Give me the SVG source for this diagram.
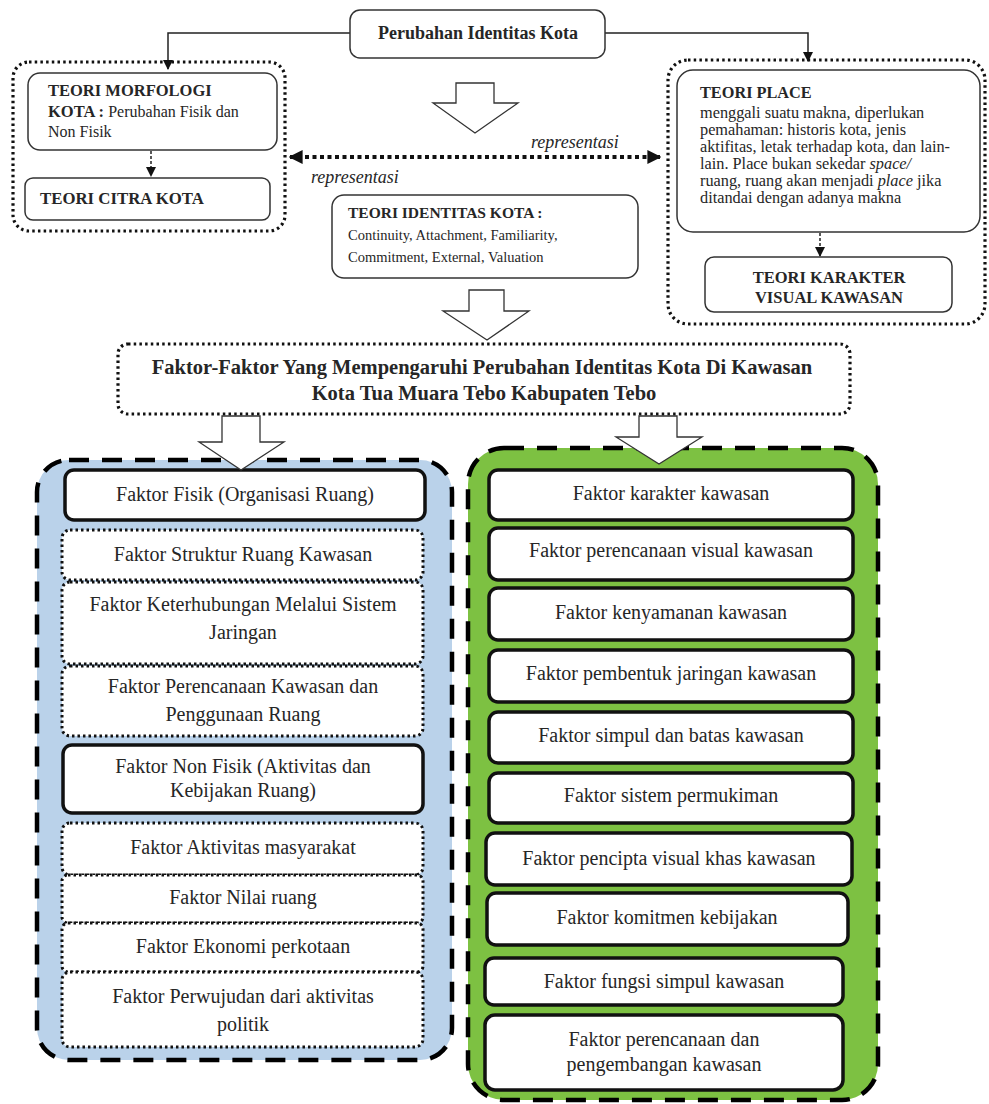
<svg xmlns="http://www.w3.org/2000/svg" width="989" height="1104" viewBox="0 0 989 1104" font-family="'Liberation Serif', 'DejaVu Serif', serif">
<defs>
<style>
text{font-family:'Liberation Serif','DejaVu Serif',serif;fill:#262626}
.b{font-weight:bold}
.i{font-style:italic}
.c{text-anchor:middle}
.box{fill:#fff;stroke:#333;stroke-width:1.5}
.dotbox{fill:none;stroke:#111;stroke-width:3.2;stroke-dasharray:2.5 3.2}
.dotin{fill:#fff;stroke:#111;stroke-width:3;stroke-dasharray:2.5 3}
.solid{fill:#fff;stroke:#111;stroke-width:3.5}
.dash{stroke:#000;stroke-width:4.5;stroke-dasharray:20 13}
.blk{fill:#fff;stroke:#333;stroke-width:1.3}
.ln{fill:none;stroke:#222;stroke-width:1.5}
.t19{font-size:20px}
.pl{font-size:16.3px}
</style>
<marker id="ah" viewBox="0 0 10 10" refX="9" refY="5" markerWidth="7" markerHeight="7" orient="auto"><path d="M0,0 L10,5 L0,10 z" fill="#111"/></marker>
<marker id="ahb" viewBox="0 0 10 10" refX="9" refY="5" markerWidth="3.5" markerHeight="3.5" orient="auto-start-reverse"><path d="M0,0 L10,5 L0,10 z" fill="#111"/></marker>
</defs>
<rect width="989" height="1104" fill="#fff"/>

<g id="connectors">
<path class="ln" d="M350,33 H168 V69" marker-end="url(#ah)"/>
<path class="ln" d="M605,33 H808 V61" marker-end="url(#ah)"/>
<path d="M151,151 V176" fill="none" stroke="#222" stroke-width="1.5" stroke-dasharray="3 2" marker-end="url(#ah)"/>
<path d="M820,233 V256" fill="none" stroke="#222" stroke-width="1.5" stroke-dasharray="3 2" marker-end="url(#ah)"/>
<path d="M290,157 H660" fill="none" stroke="#111" stroke-width="4" stroke-dasharray="4 3.5" marker-start="url(#ahb)" marker-end="url(#ahb)"/>
<text class="i" x="531" y="148" font-size="18">representasi</text>
<text class="i" x="311" y="183" font-size="18">representasi</text>
</g>

<g id="top">
<rect class="box" x="350" y="10" width="255" height="48" rx="10"/>
<text class="b c" x="478" y="39" font-size="18">Perubahan Identitas Kota</text>
</g>

<g id="left-group">
<rect class="dotbox" x="13" y="62" width="272" height="169" rx="16"/>
<g id="morfologi">
<rect class="box" x="28" y="73" width="249" height="77" rx="12"/>
<text class="b" x="48" y="96" font-size="16.5">TEORI MORFOLOGI</text>
<text x="48" y="117" font-size="16.5"><tspan class="b">KOTA : </tspan><tspan font-size="16">Perubahan Fisik dan</tspan></text>
<text x="48" y="137" font-size="16">Non Fisik</text>
</g>
<g id="citra">
<rect class="box" x="25" y="178" width="245" height="42" rx="8"/>
<text class="b" x="40" y="204" font-size="16.8">TEORI CITRA KOTA</text>
</g>
</g>

<g id="right-group">
<rect class="dotbox" x="668" y="60" width="317" height="264" rx="20"/>
<g id="place">
<rect class="box" x="677" y="70" width="303" height="162" rx="16"/>
<text class="b" x="700" y="98" font-size="16.3">TEORI PLACE</text>
<text class="pl" x="700" y="118">menggali suatu makna, diperlukan</text>
<text class="pl" x="700" y="135">pemahaman: historis kota, jenis</text>
<text class="pl" x="700" y="152">aktifitas, letak terhadap kota, dan lain-</text>
<text class="pl" x="700" y="169">lain. Place bukan sekedar <tspan class="i">space/</tspan></text>
<text class="pl" x="700" y="186">ruang, ruang akan menjadi <tspan class="i">place</tspan> jika</text>
<text class="pl" x="700" y="203">ditandai dengan adanya makna</text>
</g>
<g id="karakter">
<rect class="box" x="705" y="257" width="247" height="55" rx="9"/>
<text class="b c" x="829" y="283" font-size="16.5">TEORI KARAKTER</text>
<text class="b c" x="829" y="303" font-size="16.5">VISUAL KAWASAN</text>
</g>
</g>

<g id="identitas">
<rect class="box" x="332" y="195" width="306" height="83" rx="12"/>
<text class="b" x="348" y="218" font-size="15.5">TEORI IDENTITAS KOTA :</text>
<text x="348" y="240" font-size="14.5">Continuity, Attachment, Familiarity,</text>
<text x="348" y="262" font-size="14.5">Commitment, External, Valuation</text>
</g>

<g id="block-arrows">
<path class="blk" d="M456,83 H494 V103 H518 L475,133 L433,103 H456 Z"/>
<path class="blk" d="M469,290 H504 V311 H529 L487,340 L443,311 H469 Z"/>
</g>

<g id="faktor-heading">
<rect class="dotbox" x="118" y="344" width="732" height="70" rx="10"/>
<text class="b c" x="482" y="374" font-size="20.5">Faktor-Faktor Yang Mempengaruhi Perubahan Identitas Kota Di Kawasan</text>
<text class="b c" x="484" y="400" font-size="20.5">Kota Tua Muara Tebo Kabupaten Tebo</text>
</g>

<g id="blue-panel">
<rect x="37" y="460" width="415" height="600" rx="32" fill="#bad2ea" class="dash"/>
<g id="fisik"><rect class="solid" x="65" y="470" width="360" height="50" rx="9"/><text class="c t19" x="245" y="501">Faktor Fisik (Organisasi Ruang)</text></g>
<g id="struktur"><rect class="dotin" x="62" y="530" width="361" height="50" rx="8"/><text class="c t19" x="243" y="561">Faktor Struktur Ruang Kawasan</text></g>
<g id="keterhubungan"><rect class="dotin" x="62" y="582" width="361" height="82" rx="8"/><text class="c t19" x="243" y="611">Faktor Keterhubungan Melalui Sistem</text><text class="c t19" x="243" y="639">Jaringan</text></g>
<g id="perencanaan-kawasan"><rect class="dotin" x="62" y="666" width="361" height="70" rx="8"/><text class="c t19" x="243" y="693">Faktor Perencanaan Kawasan dan</text><text class="c t19" x="243" y="721">Penggunaan Ruang</text></g>
<g id="nonfisik"><rect class="solid" x="63" y="745" width="360" height="68" rx="9"/><text class="c t19" x="243" y="773">Faktor Non Fisik (Aktivitas dan</text><text class="c t19" x="243" y="797">Kebijakan Ruang)</text></g>
<g id="aktivitas"><rect class="dotin" x="62" y="823" width="361" height="52" rx="8"/><text class="c t19" x="243" y="854">Faktor Aktivitas masyarakat</text></g>
<g id="nilai"><rect class="dotin" x="62" y="875" width="361" height="48" rx="6"/><text class="c t19" x="243" y="904">Faktor Nilai ruang</text></g>
<g id="ekonomi"><rect class="dotin" x="62" y="923" width="361" height="49" rx="6"/><text class="c t19" x="243" y="953">Faktor Ekonomi perkotaan</text></g>
<g id="perwujudan"><rect class="dotin" x="62" y="972" width="361" height="75" rx="8"/><text class="c t19" x="243" y="1003">Faktor Perwujudan dari aktivitas</text><text class="c t19" x="243" y="1031">politik</text></g>
</g>

<g id="green-panel">
<rect x="468" y="448" width="410" height="652" rx="36" fill="#7dc142" class="dash"/>
<g id="g1"><rect class="solid" x="489" y="470" width="364" height="50" rx="9"/><text class="c t19" x="671" y="500">Faktor karakter kawasan</text></g>
<g id="g2"><rect class="solid" x="489" y="528" width="364" height="52" rx="9"/><text class="c t19" x="671" y="557">Faktor perencanaan visual kawasan</text></g>
<g id="g3"><rect class="solid" x="489" y="588" width="364" height="52" rx="9"/><text class="c t19" x="671" y="619">Faktor kenyamanan kawasan</text></g>
<g id="g4"><rect class="solid" x="489" y="650" width="364" height="52" rx="9"/><text class="c t19" x="671" y="680">Faktor pembentuk jaringan kawasan</text></g>
<g id="g5"><rect class="solid" x="489" y="712" width="364" height="51" rx="9"/><text class="c t19" x="671" y="742">Faktor simpul dan batas kawasan</text></g>
<g id="g6"><rect class="solid" x="489" y="773" width="364" height="50" rx="9"/><text class="c t19" x="671" y="802">Faktor sistem permukiman</text></g>
<g id="g7"><rect class="solid" x="486" y="833" width="366" height="52" rx="9"/><text class="c t19" x="669" y="865">Faktor pencipta visual khas kawasan</text></g>
<g id="g8"><rect class="solid" x="487" y="893" width="361" height="52" rx="9"/><text class="c t19" x="667" y="924">Faktor komitmen kebijakan</text></g>
<g id="g9"><rect class="solid" x="485" y="958" width="358" height="47" rx="9"/><text class="c t19" x="664" y="988">Faktor fungsi simpul kawasan</text></g>
<g id="g10"><rect class="solid" x="485" y="1015" width="358" height="75" rx="10"/><text class="c t19" x="664" y="1046">Faktor perencanaan dan</text><text class="c t19" x="664" y="1071">pengembangan kawasan</text></g>
</g>

<g id="panel-arrows">
<path class="blk" d="M222,416 H260 V442 H284 L241,470 L199,442 H222 Z"/>
<path class="blk" d="M639,416 H677 V437 H702 L659,464 L616,437 H639 Z"/>
</g>
</svg>
